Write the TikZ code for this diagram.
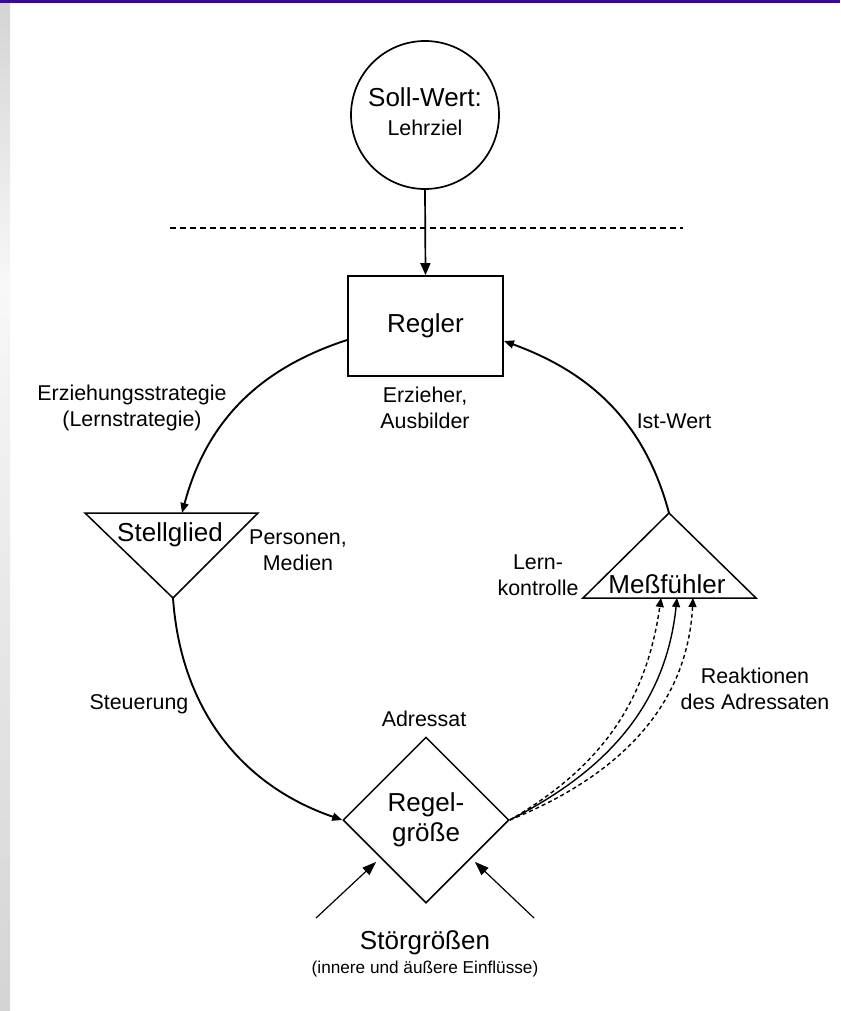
\documentclass[tikz,border=0pt]{standalone}
\usepackage{fontspec}
\setmainfont{Liberation Sans}
\usetikzlibrary{arrows.meta,shapes.geometric,calc}
\definecolor{topbar}{RGB}{56,10,150}
\definecolor{stripgrey}{RGB}{212,212,212}
\definecolor{stripwhite}{RGB}{248,248,248}
\begin{document}
\begin{tikzpicture}[x=1pt,y=1pt,
  bigtxt/.style={font=\fontsize{26}{30}\selectfont},
  lbl/.style={font=\fontsize{21.4}{25.5}\selectfont, align=center, inner sep=0pt},
  shapeline/.style={line width=1.5pt, line join=miter},
  loopline/.style={line width=1.9pt, -{Triangle[length=10pt,width=8pt]}},
  react/.style={line width=1.4pt, -{Triangle[length=9pt,width=8pt]}},
  distarrow/.style={line width=1.2pt, -{Triangle[length=14pt,width=10pt]}},
]
% page frame
\useasboundingbox (0,0) rectangle (840,-1011);
\fill[white] (0,0) rectangle (840,-1011);
\shade[top color=stripgrey, bottom color=stripwhite] (0,0) rectangle (10,-285);
\shade[top color=stripwhite, bottom color=stripgrey] (0,-285) rectangle (10,-1011);
\fill[topbar] (0,0) rectangle (840,-3);

% set point
\node[draw, circle, line width=1.7pt, minimum size=148pt, inner sep=0pt] (soll) at (425,-115) {};
\node[align=center, inner sep=0pt, font=\fontsize{21.4}{29}\selectfont] (solltxt) at (425,-112)
      {{\fontsize{26}{30}\selectfont Soll-Wert:}\\Lehrziel};

% separating line
\draw[line width=1.4pt, dash pattern=on 6pt off 4pt]
  (170,-228) coordinate (sepL) -- (683,-228) coordinate (sepR);

% controller
\node[draw, line width=1.8pt, minimum width=155pt, minimum height=100pt, inner sep=0pt, bigtxt]
  (regler) at (425.5,-326) {Regler};
\draw[line width=1.7pt, -{Triangle[length=12pt,width=10pt]}] (soll.south) -- (regler.north);
\node[lbl] (erzieher) at (425,-408) {Erzieher,\\Ausbilder};

% actuator
\coordinate (stL) at (85,-513);
\coordinate (stR) at (258,-513);
\coordinate (stC) at (173,-598);
\coordinate (stIn) at (182,-513);
\draw[shapeline] (stL) -- (stR) -- (stC) -- cycle;
\node[bigtxt] (stell) at (170,-535) {Stellglied};
\node[lbl] (personen) at (298,-550) {Personen,\\Medien};

% sensor
\coordinate (msL) at (583,-598);
\coordinate (msR) at (756,-598);
\coordinate (msT) at (669,-513);
\draw[shapeline] (msL) -- (msR) -- (msT) -- cycle;
\node[bigtxt] (mess) at (667,-584) {Meßfühler};
\node[lbl] (lernk) at (538,-575) {Lern-\\kontrolle};

% controlled variable
\node[draw, diamond, shapeline, minimum width=166pt, minimum height=166pt, inner sep=0pt,
      align=center, font=\fontsize{26}{30}\selectfont] (regel) at (426,-820) {Regel-\\größe};
\node[lbl] (adressat) at (424,-719) {Adressat};

% control loop
\coordinate (rW) at ([yshift=-14pt]regler.west);
\coordinate (rE) at ([yshift=-15pt]regler.east);
\draw[loopline] (rW) to[out=198,in=75] (stIn);
\draw[loopline] (stC) to[out=274,in=161] (regel.west);
\draw[loopline] (msT) to[out=105,in=-20] (rE);

\node[lbl] (strategie) at (132,-408) {Erziehungsstrategie\\(Lernstrategie)};
\node[lbl] (steuerung) at (139,-704) {Steuerung};
\node[lbl] (istwert) at (674,-421) {Ist-Wert};

% reactions of the learner
\coordinate (in1) at (661,-598);
\coordinate (in2) at (677,-598);
\coordinate (in3) at (693,-598);
\draw[react, dash pattern=on 4pt off 3pt] (regel.east) to[out=30,in=-98] (in1);
\draw[react] (regel.east) to[out=27,in=-96] (in2);
\draw[react, dash pattern=on 4pt off 3pt] (regel.east) to[out=22,in=-93] (in3);
\node[lbl] (reaktionen) at (755,-689) {Reaktionen\\des Adressaten};

% disturbances
\coordinate (dL) at (316,-918);
\coordinate (dR) at (534,-918);
\draw[distarrow] (dL) -- ([xshift=-8pt]regel.south west);
\draw[distarrow] (dR) -- ([xshift=7pt]regel.south east);
\node[bigtxt] (stoer) at (425,-943) {Störgrößen};
\node[font=\fontsize{17.2}{20}\selectfont, inner sep=0pt] (einfl) at (425,-969)
  {(innere und äußere Einflüsse)};
\end{tikzpicture}
\end{document}
